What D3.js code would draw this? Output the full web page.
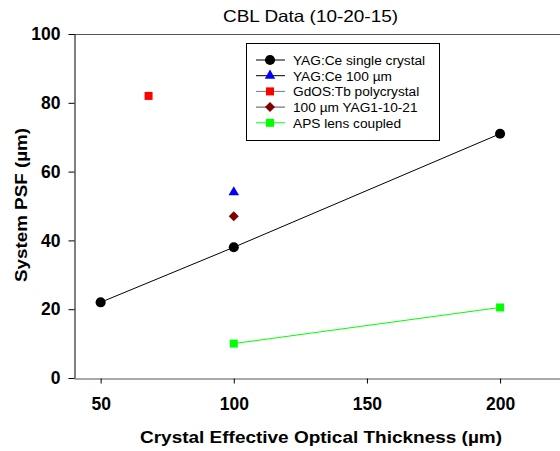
<!DOCTYPE html>
<html><head><meta charset="utf-8">
<script src="https://cdn.jsdelivr.net/npm/d3@7"></script>
<style>body{margin:0;background:#fff}svg{display:block;font-family:Arial,"Liberation Sans",sans-serif}</style>
</head><body>
<svg id="c" width="560" height="451"></svg>
<script>
const title = "CBL Data (10-20-15)";
const xTicks = [50, 100, 150, 200];
const yTicks = [0, 20, 40, 60, 80, 100];
const yagSingleX = [50, 100, 200];
const yagSingleY = [22, 38, 71];
const yag100X = [100];
const yag100Y = [54];
const gdosX = [68];
const gdosY = [82];
const yag1X = [100];
const yag1Y = [47];
const apsX = [100, 200];
const apsY = [10, 20.5];
const legendLabels = ["YAG:Ce single crystal", "YAG:Ce 100 \u00b5m", "GdOS:Tb polycrystal", "100 \u00b5m YAG1-10-21", "APS lens coupled"];

const svg = d3.select("#c");
const x = d3.scaleLinear().domain([40, 222.5]).range([74, 560]);
const y = d3.scaleLinear().domain([0, 100]).range([378, 34]);

// title
svg.append("text").attr("x", 310.5).attr("y", 22).attr("text-anchor", "middle")
  .attr("font-size", 16.5).attr("fill", "#000")
  .attr("textLength", 175).attr("lengthAdjust", "spacingAndGlyphs").text(title);

// top frame line
svg.append("line").attr("x1", 74).attr("x2", 560).attr("y1", 34.5).attr("y2", 34.5).attr("stroke", "#555").attr("stroke-width", 1);

// y axis
const yAxis = svg.append("g").attr("transform", "translate(74.5,0)")
  .call(d3.axisLeft(y).tickValues(yTicks).tickSize(6).tickSizeOuter(0).tickPadding(8));
yAxis.select(".domain").attr("stroke", "#000");
yAxis.selectAll(".tick line").attr("stroke", "#000");
yAxis.selectAll("text").attr("font-size", 17.5).attr("font-weight", "bold").attr("font-family", "Arial, 'Liberation Sans', sans-serif").attr("fill", "#000");

// x axis
const xAxis = svg.append("g").attr("transform", "translate(0,378.5)")
  .call(d3.axisBottom(x).tickValues(xTicks).tickSize(5).tickSizeOuter(0).tickPadding(14));
xAxis.select(".domain").attr("stroke", "#555");
xAxis.selectAll(".tick line").attr("stroke", "#000");
xAxis.selectAll("text").attr("font-size", 17.5).attr("font-weight", "bold").attr("font-family", "Arial, 'Liberation Sans', sans-serif").attr("fill", "#000");

// axis titles
svg.append("text").attr("x", 321).attr("y", 443).attr("text-anchor", "middle")
  .attr("font-size", 17).attr("font-weight", "bold")
  .attr("textLength", 362).attr("lengthAdjust", "spacingAndGlyphs")
  .text("Crystal Effective Optical Thickness (\u00b5m)");
svg.append("text").attr("transform", "translate(27,205) rotate(-90)").attr("text-anchor", "middle")
  .attr("font-size", 17).attr("font-weight", "bold")
  .attr("textLength", 154).attr("lengthAdjust", "spacingAndGlyphs")
  .text("System PSF (\u00b5m)");

const line = d3.line().x(d => x(d[0])).y(d => y(d[1]));
const zip = (a, b) => a.map((v, i) => [v, b[i]]);

// lines
svg.append("path").datum(zip(yagSingleX, yagSingleY)).attr("d", line).attr("fill", "none").attr("stroke", "#000").attr("stroke-width", 1);
svg.append("path").datum(zip(apsX, apsY)).attr("d", line).attr("fill", "none").attr("stroke", "#00ff00").attr("stroke-width", 1);

const series = [
  {pts: zip(yagSingleX, yagSingleY), sym: d3.symbolCircle, size: 80, rot: 0, color: "#000", lc: "#000"},
  {pts: zip(yag100X, yag100Y), sym: d3.symbolTriangle, size: 48, rot: 0, color: "#0000ff", lc: "#000"},
  {pts: zip(gdosX, gdosY), sym: d3.symbolSquare, size: 64, rot: 0, color: "#ff0000", lc: "#777"},
  {pts: zip(yag1X, yag1Y), sym: d3.symbolSquare, size: 50, rot: 45, color: "#800000", lc: "#555"},
  {pts: zip(apsX, apsY), sym: d3.symbolSquare, size: 64, rot: 0, color: "#00ff00", lc: "#00ff00"}
];
series.forEach(s => {
  svg.selectAll(null).data(s.pts).enter().append("path")
    .attr("transform", d => `translate(${x(d[0])},${y(d[1])}) rotate(${s.rot})`)
    .attr("d", d3.symbol().type(s.sym).size(s.size)).attr("fill", s.color);
});

// legend
const lg = svg.append("g");
lg.append("rect").attr("x", 246.5).attr("y", 43.5).attr("width", 193).attr("height", 97).attr("fill", "#fff").attr("stroke", "#000");
series.forEach((s, i) => {
  const yy = 60 + i * 15.7;
  lg.append("line").attr("x1", 256).attr("x2", 285).attr("y1", yy).attr("y2", yy).attr("stroke", s.lc).attr("stroke-width", 1);
  lg.append("path").attr("transform", `translate(270,${yy}) rotate(${s.rot})`).attr("d", d3.symbol().type(s.sym).size(s.size)).attr("fill", s.color);
  lg.append("text").attr("x", 293).attr("y", yy + 5).attr("font-size", 13.7).text(legendLabels[i]);
});
</script>
</body></html>
